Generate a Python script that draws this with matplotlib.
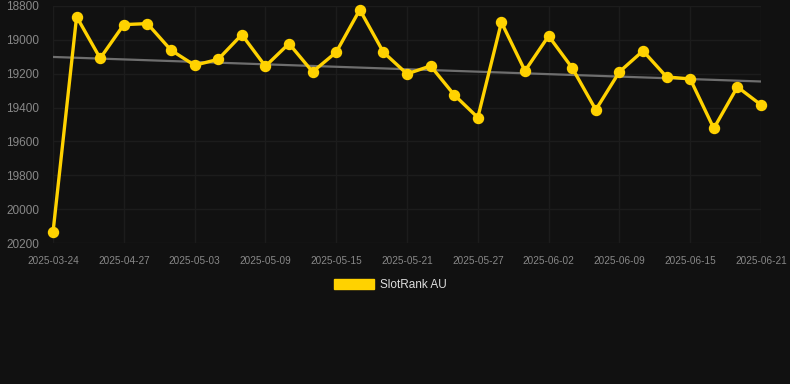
import numpy as np
import matplotlib.pyplot as plt
from matplotlib.patches import Patch

plt.rcParams['font.family'] = ['Liberation Sans', 'DejaVu Sans']

# ------------------------------
# Datos
# ------------------------------
rank = [20137, 18863, 19109, 18910, 18904, 19061, 19150, 19115, 18969, 19156,
        19022, 19189, 19073, 18822, 19073, 19201, 19154, 19325, 19459, 18896,
        19183, 18977, 19166, 19413, 19189, 19065, 19219, 19231, 19523, 19278,
        19384]
tick_labels = ["2025-03-24", "2025-04-27", "2025-05-03", "2025-05-09",
               "2025-05-15", "2025-05-21", "2025-05-27", "2025-06-02",
               "2025-06-09", "2025-06-15", "2025-06-21"]
trend = [19101, 19246]   # tendencia: valor al inicio y al final
y_ticks = [18800, 19000, 19200, 19400, 19600, 19800, 20000, 20200]

bg = "#111111"
amarillo = "#FFD200"

# ------------------------------
# Figura
# ------------------------------
fig = plt.figure(figsize=(7.9, 3.84), dpi=100, facecolor=bg)
ax = fig.add_axes([53/790, 1 - 243/384, (761 - 53)/790, (243 - 6)/384])
ax.set_facecolor(bg)

x = np.arange(len(rank))
ax.plot([x[0], x[-1]], trend, color="#6e6e6e", lw=1.6, zorder=2)
ax.plot(x, rank, color=amarillo, lw=2.4, marker="o", markersize=7.2,
        clip_on=False, zorder=3)

ax.set_xlim(0, len(rank) - 1)
ax.set_ylim(20200, 18800)
ax.set_yticks(y_ticks)
ax.set_yticklabels([str(v) for v in y_ticks])
ax.set_xticks(x[::3])
ax.set_xticklabels(tick_labels)

ax.grid(True, color="#1c1c1c", lw=1)
ax.set_axisbelow(True)
for s in ax.spines.values():
    s.set_visible(False)
ax.tick_params(axis="y", length=0, pad=10, labelsize=8.5, labelcolor="#888888")
ax.tick_params(axis="x", length=0, pad=9, labelsize=7.2, labelcolor="#888888")

fig.legend(handles=[Patch(color=amarillo, label="SlotRank AU")],
           loc="center", bbox_to_anchor=(390/790, 1 - 285/384),
           frameon=False, fontsize=8.5, labelcolor="#dddddd",
           handlelength=3.4, handleheight=0.9, handletextpad=0.5)

fig.savefig("out.png", dpi=100, facecolor=bg)
